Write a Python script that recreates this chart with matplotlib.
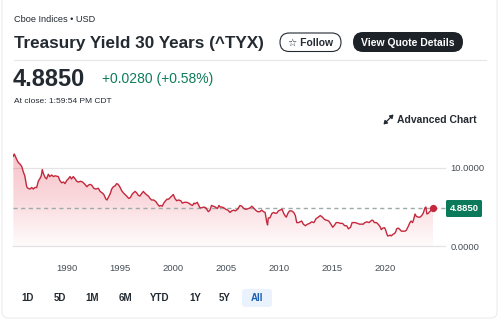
import numpy as np
import matplotlib
matplotlib.use("Agg")
import matplotlib.pyplot as plt
from matplotlib.patches import FancyBboxPatch, Polygon, FancyArrowPatch
from matplotlib.colors import LinearSegmentedColormap

plt.rcParams['font.family'] = ['Liberation Sans', 'DejaVu Sans']

# ---------------- data ----------------
years = [1984.97, 1985.05, 1985.13, 1985.25, 1985.44, 1985.6, 1985.76, 1985.91, 1986.05, 1986.23,
         1986.35, 1986.54, 1986.7, 1986.85, 1987.0, 1987.17, 1987.32, 1987.5, 1987.6, 1987.70,
         1987.8, 1987.96, 1988.1, 1988.27, 1988.4, 1988.59, 1988.75, 1988.9, 1989.05, 1989.21,
         1989.35, 1989.53, 1989.7, 1989.84, 1990.0, 1990.15, 1990.31, 1990.45, 1990.62, 1990.8,
         1990.94, 1991.1, 1991.3, 1991.5, 1991.72, 1991.9, 1992.05, 1992.2, 1992.36, 1992.55,
         1992.75, 1992.98, 1993.15, 1993.35, 1993.5, 1993.7, 1993.8, 1993.95, 1994.1, 1994.24,
         1994.4, 1994.55, 1994.71, 1994.85, 1995.0, 1995.18, 1995.35, 1995.5, 1995.65, 1995.85,
         1996.0, 1996.15, 1996.28, 1996.45, 1996.6, 1996.75, 1996.9, 1997.05, 1997.22, 1997.35,
         1997.5, 1997.7, 1997.85, 1998.0, 1998.2, 1998.4, 1998.55, 1998.72, 1998.85, 1999.0,
         1999.15, 1999.26, 1999.45, 1999.6, 1999.75, 1999.90, 2000.05, 2000.2, 2000.37, 2000.55,
         2000.75, 2000.9, 2001.1, 2001.31, 2001.5, 2001.7, 2001.85, 2002.0, 2002.09, 2002.3,
         2002.45, 2002.56, 2002.75, 2002.9, 2003.1, 2003.25, 2003.35, 2003.5, 2003.65, 2003.82,
         2004.0, 2004.2, 2004.35, 2004.45, 2004.61, 2004.8, 2005.0, 2005.2, 2005.39, 2005.55,
         2005.75, 2005.9, 2006.1, 2006.33, 2006.5, 2006.7, 2006.9, 2007.12, 2007.3, 2007.44,
         2007.6, 2007.8, 2008.0, 2008.2, 2008.38, 2008.55, 2008.7, 2008.85, 2008.93, 2009.0,
         2009.15, 2009.35, 2009.5, 2009.65, 2009.79, 2009.95, 2010.10, 2010.3, 2010.45, 2010.57,
         2010.7, 2010.85, 2011.0, 2011.2, 2011.4, 2011.55, 2011.68, 2011.85, 2012.0, 2012.15,
         2012.30, 2012.5, 2012.7, 2012.9, 2013.09, 2013.3, 2013.5, 2013.71, 2013.9, 2014.1,
         2014.3, 2014.50, 2014.7, 2014.9, 2015.07, 2015.2, 2015.4, 2015.60, 2015.8, 2016.0,
         2016.2, 2016.39, 2016.55, 2016.75, 2016.9, 2017.01, 2017.2, 2017.4, 2017.6, 2017.75,
         2017.95, 2018.1, 2018.3, 2018.5, 2018.74, 2018.85, 2019.0, 2019.2, 2019.35, 2019.53,
         2019.65, 2019.8, 2019.95, 2020.05, 2020.16, 2020.25, 2020.35, 2020.47, 2020.6, 2020.75,
         2020.9, 2021.0, 2021.10, 2021.25, 2021.41, 2021.55, 2021.7, 2021.88, 2022.0, 2022.15,
         2022.35, 2022.45, 2022.6, 2022.7, 2022.83, 2022.95, 2023.14, 2023.3, 2023.46, 2023.6,
         2023.77, 2023.85, 2023.95, 2024.08, 2024.2, 2024.35, 2024.45, 2024.55]
yields = [11.5, 11.8, 11.6, 11.2, 10.7, 10.5, 10.2, 9.5, 9.0, 7.6,
          7.4, 7.3, 7.5, 7.3, 7.5, 7.5, 8.3, 8.7, 9.0, 9.8,
          9.3, 8.8, 8.6, 9.2, 8.9, 9.1, 8.9, 9.0, 8.95, 8.9,
          8.4, 8.1, 8.2, 8.0, 8.4, 8.6, 8.9, 8.6, 8.9, 8.6,
          8.3, 8.2, 8.3, 8.2, 7.9, 7.6, 7.8, 7.9, 7.8, 7.4,
          7.3, 7.4, 7.0, 6.8, 6.6, 6.0, 5.9, 6.3, 6.7, 7.3,
          7.6, 7.7, 8.0, 7.9, 7.6, 7.1, 6.8, 6.6, 6.4, 6.1,
          6.2, 6.6, 6.8, 7.0, 6.8, 6.5, 6.4, 6.7, 7.0, 6.8,
          6.6, 6.4, 6.1, 5.9, 5.9, 5.7, 5.4, 5.1, 5.2, 5.1,
          5.5, 5.7, 6.0, 6.0, 6.2, 6.4, 6.6, 6.1, 5.8, 5.9,
          5.8, 5.5, 5.6, 5.6, 5.5, 5.3, 5.2, 5.5, 5.4, 5.6,
          5.2, 4.9, 4.9, 5.0, 4.9, 4.6, 4.4, 4.6, 5.2, 5.1,
          5.0, 4.8, 5.2, 5.0, 5.0, 4.9, 4.7, 4.6, 4.3, 4.5,
          4.6, 4.5, 4.7, 5.2, 5.1, 4.8, 4.7, 4.8, 4.9, 5.1,
          4.9, 4.6, 4.4, 4.4, 4.6, 4.4, 4.3, 3.1, 2.7, 3.6,
          3.6, 4.2, 4.3, 4.2, 4.2, 4.5, 4.6, 4.7, 4.2, 3.9,
          3.7, 4.2, 4.5, 4.5, 4.3, 3.9, 3.0, 3.0, 3.1, 3.2,
          2.8, 2.6, 2.8, 2.9, 3.1, 3.0, 3.5, 3.7, 3.9, 3.7,
          3.4, 3.3, 3.2, 2.8, 2.4, 2.6, 3.0, 3.0, 2.9, 2.9,
          2.6, 2.6, 2.2, 2.4, 3.0, 3.0, 3.0, 2.9, 2.8, 2.8,
          2.8, 3.0, 3.1, 3.0, 3.3, 3.3, 3.0, 3.0, 2.8, 2.5,
          2.1, 2.3, 2.35, 2.1, 1.6, 1.3, 1.3, 1.4, 1.3, 1.5,
          1.6, 1.8, 2.2, 2.3, 2.1, 1.9, 1.9, 1.9, 2.0, 2.4,
          3.0, 3.2, 3.0, 3.4, 4.1, 3.8, 3.7, 3.7, 3.9, 4.2,
          4.9, 5.0, 4.1, 4.2, 4.4, 4.6, 4.6, 4.885]
xtick_years = [1990, 1995, 2000, 2005, 2010, 2015, 2020]
ytick_vals = [0, 10]
ytick_labels = ["0.0000", "10.0000"]
last_label = "4.8850"
periods = ["1D", "5D", "1M", "6M", "YTD", "1Y", "5Y", "All"]

W, H = 500, 322
fig = plt.figure(figsize=(W / 100, H / 100), dpi=100)
fig.patch.set_facecolor("white")

def fx(px):
    return px / W

def fy(py):
    return 1 - py / H

# background "page" axes in pixel coordinates
bg = fig.add_axes([0, 0, 1, 1], zorder=0)
bg.set_xlim(0, W)
bg.set_ylim(H, 0)
bg.axis("off")

def rbox(x, y, w, h, r, **kw):
    bg.add_patch(FancyBboxPatch((x, y), w, h, boxstyle=f"round,pad=0,rounding_size={r}", **kw))

# card border
rbox(2, -10, 495, 328, 6, facecolor="none", edgecolor="#ececec", lw=0.8)

# header texts
bg.text(14, 19, "Cboe Indices \u2022 USD", fontsize=6.6, color="#232a31", va="center", ha="left")
bg.text(14, 43, "Treasury Yield 30 Years (^TYX)", fontsize=12.3, fontweight="bold",
        color="#232a31", va="center", ha="left")

# Follow button
rbox(280, 33, 61, 18.5, 9.2, facecolor="white", edgecolor="#232a31", lw=0.8)
bg.text(310.5, 42.5, "\u2606 Follow", fontsize=7.5, fontweight="bold", color="#232a31",
        va="center", ha="center", family=["Liberation Sans", "DejaVu Sans"])

# View Quote Details button
rbox(353, 32, 110, 20, 10, facecolor="#1d2228", edgecolor="none")
bg.text(408, 42.5, "View Quote Details", fontsize=7.5, fontweight="bold", color="white",
        va="center", ha="center")

# separator
bg.plot([14, 486], [59.5, 59.5], color="#e6e6e6", lw=0.8)

# price
bg.text(13, 79, "4.8850", fontsize=17, fontweight="bold", color="#232a31", va="center", ha="left")
bg.text(102, 79, "+0.0280 (+0.58%)", fontsize=10, color="#0e7c5a", va="center", ha="left")
bg.text(14, 101, "At close: 1:59:54 PM CDT", fontsize=6, color="#232a31", va="center", ha="left")

# Advanced chart icon (expand arrows, drawn as shapes since no font has the glyph)
for (sx, sy), (ex, ey) in [((388.5, 119.5), (393.5, 114.5)), ((388.5, 119.5), (383.5, 124.5))]:
    bg.add_patch(FancyArrowPatch((sx, sy), (ex, ey), arrowstyle="-|>,head_length=2.0,head_width=1.3",
                                 color="#232a31", lw=0.9, shrinkA=0, shrinkB=0))
bg.text(397, 119.5, "Advanced Chart", fontsize=7.5, fontweight="bold", color="#232a31",
        va="center", ha="left")

# last value label
rbox(446, 200, 36, 17, 1.5, facecolor="#0b7a5a", edgecolor="none", zorder=5)
bg.text(464, 208.5, last_label, fontsize=6.8, color="white", fontweight="bold",
        va="center", ha="center", zorder=6)

# period buttons
centers = [28, 60, 92, 125, 160, 195, 225, 257]
rbox(242, 289, 30, 18, 3, facecolor="#e9f2fd", edgecolor="none")
for c, p in zip(centers, periods):
    bg.text(c, 298, p, fontsize=7, fontweight="bold",
            color="#1a5fb4" if p == "All" else "#232a31", va="center", ha="center")

# ---------------- chart ----------------
x0, x1 = 13, 445
px_per_year = (385 - 66.7) / 30.0
xmin = 1990 + (x0 - 66.7) / px_per_year
xmax = 1990 + (x1 - 66.7) / px_per_year
ppu = 7.8
ybot = 246
ymax = 12.5
ytop = ybot - ymax * ppu

ax = fig.add_axes([fx(x0), fy(ybot), fx(x1 - x0), (ybot - ytop) / H], zorder=1)
ax.set_xlim(xmin, xmax)
ax.set_ylim(0, ymax)
ax.set_facecolor("none")
for s in ax.spines.values():
    s.set_visible(False)

for v in ytick_vals:
    ax.axhline(v, color="#e4e4e4", lw=0.9, zorder=1, clip_on=False)

xs = np.array(years)
ys = np.array(yields)
cmap = LinearSegmentedColormap.from_list(
    "g", [(0.93, 0.35, 0.42, 0.03), (0.90, 0.25, 0.33, 0.20), (0.88, 0.20, 0.30, 0.30)])
grad = np.linspace(0, 1, 256).reshape(-1, 1)
im = ax.imshow(grad, extent=[xs[0], xs[-1], 0, ys.max()], origin="lower", aspect="auto",
               cmap=cmap, zorder=2)
poly = Polygon(np.column_stack([np.r_[xs[0], xs, xs[-1]], np.r_[0, ys, 0]]), closed=True,
               facecolor="none", edgecolor="none", transform=ax.transData)
ax.add_patch(poly)
im.set_clip_path(poly)

ax.plot(xs, ys, color="#c4283c", lw=1.0, zorder=4, solid_joinstyle="round")
ax.axhline(ys[-1], xmin=0, xmax=(446 - x0) / (x1 - x0), color="#9fabaa", lw=1.0,
           dashes=(3, 2.5), zorder=3, clip_on=False)
ax.plot([xs[-1]], [ys[-1]], "o", color="#c4283c", ms=4.2, zorder=5)

ax.set_xticks(xtick_years)
ax.set_xticklabels([str(y) for y in xtick_years], fontsize=6.8, color="#464e56")
ax.tick_params(axis="x", length=0, pad=13)
ax.yaxis.tick_right()
ax.set_yticks(ytick_vals)
ax.set_yticklabels(ytick_labels, fontsize=6.8, color="#464e56")
ax.tick_params(axis="y", length=0, pad=4)

fig.savefig("out.png", dpi=100, facecolor="white")
